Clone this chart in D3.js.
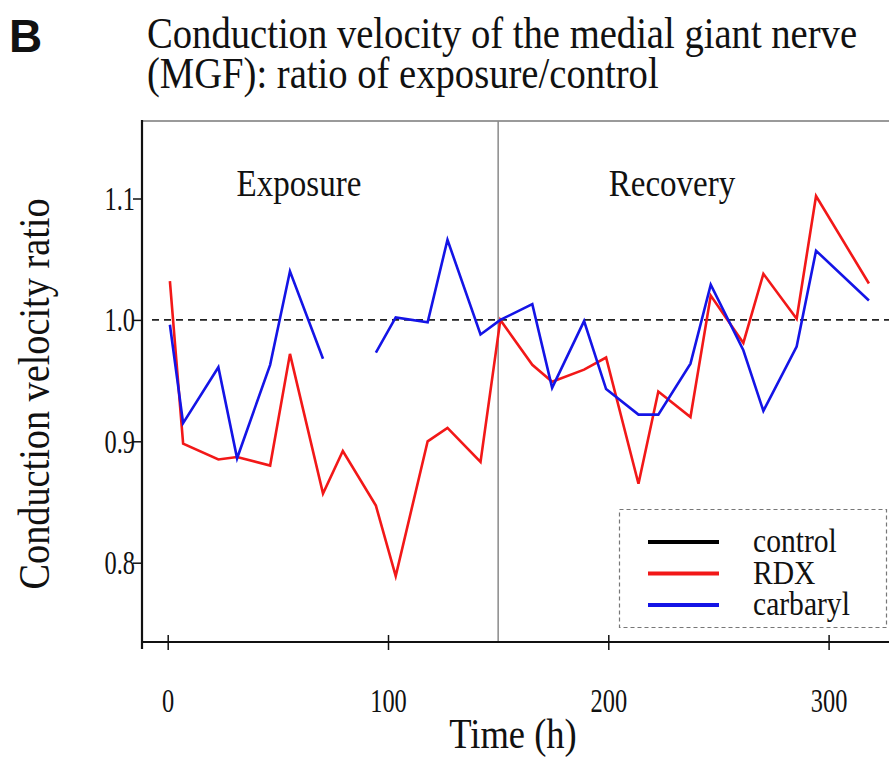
<!DOCTYPE html>
<html>
<head>
<meta charset="utf-8">
<script src="https://cdn.jsdelivr.net/npm/d3@7/dist/d3.min.js"></script>
<style>
  html, body { margin: 0; padding: 0; background: #fff; }
  svg { display: block; }
  text { font-family: "Liberation Serif", "Times New Roman", serif; fill: #111; }
</style>
</head>
<body>
<svg id="chart" width="889" height="758"></svg>
<script>
// Sampling times (h) shared by both treatments
const times = [1, 7, 23, 31.5, 46.5, 55.5, 70.5, 79.5, 94.5, 103.5, 118, 127, 142, 151,
               165.5, 174.5, 189, 199, 213.7, 222.7, 237.3, 246.5, 261.3, 270.4, 285.5, 294.3, 318.3];
// Conduction velocity ratio (exposure/control)
const rdx = [1.032, 0.898, 0.885, 0.887, 0.880, 0.972, 0.857, 0.892, 0.847, 0.789, 0.900, 0.911, 0.883, 1.000,
             0.963, 0.949, 0.959, 0.969, 0.865, 0.941, 0.920, 1.020, 0.981, 1.038, 1.001, 1.102, 1.030];
const carbaryl = [0.996, 0.915, 0.961, 0.886, 0.963, 1.040, 0.968, null, 0.973, 1.002, 0.998, 1.066, 0.988, 1.000,
                  1.013, 0.944, 0.999, 0.943, 0.922, 0.922, 0.964, 1.029, 0.975, 0.925, 0.978, 1.057, 1.016];
const controlLevel = 1.0;
const phaseBoundary = 150;
const xTicks = [0, 100, 200, 300];
const yTicks = [0.8, 0.9, 1.0, 1.1];
const seriesNames = ["control", "RDX", "carbaryl"];
const seriesColors = ["#000000", "#f21818", "#1414e6"];

const svg = d3.select("#chart");
const plotLeft = 142, plotRight = 889, plotTop = 121, plotBottom = 642;

const x = d3.scaleLinear().domain([0, 300]).range([167.7, 828.6]);
const y = d3.scaleLinear().domain([0.8, 1.1]).range([562.7, 198.5]);

// Condensed serif text placed at (px, py)
function label(parent, px, py, str, size, anchor = "start", rotate = 0, squeeze = 0.87) {
  return parent.append("text")
    .attr("transform", `translate(${px},${py}) rotate(${rotate}) scale(${squeeze},1)`)
    .attr("text-anchor", anchor)
    .style("font-size", size + "px")
    .text(str);
}

// Panel label and title
svg.append("text").attr("x", 9).attr("y", 52)
  .style("font-family", "'Liberation Sans', Arial, sans-serif")
  .style("font-weight", "bold").style("font-size", "46px").text("B");
label(svg, 147, 48, "Conduction velocity of the medial giant nerve", 44.4);
label(svg, 147, 88, "(MGF): ratio of exposure/control", 44.4);

// Frame: grey top border and phase divider
svg.append("line").attr("x1", plotLeft).attr("x2", plotRight).attr("y1", plotTop).attr("y2", plotTop)
  .attr("stroke", "#9a9a9a").attr("stroke-width", 2);
svg.append("line").attr("x1", x(phaseBoundary)).attr("x2", x(phaseBoundary))
  .attr("y1", plotTop).attr("y2", plotBottom)
  .attr("stroke", "#8a8a8a").attr("stroke-width", 1.5);

// Control reference
svg.append("line").attr("x1", plotLeft + 10).attr("x2", plotRight)
  .attr("y1", y(controlLevel)).attr("y2", y(controlLevel))
  .attr("stroke", "#222").attr("stroke-width", 1.6).attr("stroke-dasharray", "7,5");

// Axes
const xAxis = svg.append("g").attr("transform", `translate(0,${plotBottom})`)
  .call(d3.axisBottom(x).tickValues(xTicks).tickSize(8).tickFormat(d3.format("d")));
xAxis.select(".domain").remove();
xAxis.attr("font-family", null).attr("font-size", null);
xAxis.selectAll(".tick line").attr("y1", -7).attr("stroke", "#111").attr("stroke-width", 1.5);
xAxis.selectAll(".tick text").remove();
xAxis.selectAll(".tick").each(function (d) {
  label(d3.select(this), 0, 70, d3.format("d")(d), 33, "middle", 0, 0.74);
});
svg.append("line").attr("x1", plotLeft).attr("x2", plotRight).attr("y1", plotBottom).attr("y2", plotBottom)
  .attr("stroke", "#111").attr("stroke-width", 2.2);

const yAxis = svg.append("g").attr("transform", `translate(${plotLeft},0)`)
  .call(d3.axisLeft(y).tickValues(yTicks).tickSize(9).tickFormat(d3.format(".1f")));
yAxis.select(".domain").remove();
yAxis.attr("font-family", null).attr("font-size", null);
yAxis.selectAll(".tick line").attr("stroke", "#111").attr("stroke-width", 1.5);
yAxis.selectAll(".tick text").remove();
yAxis.selectAll(".tick").each(function (d) {
  label(d3.select(this), -7, 11, d3.format(".1f")(d), 33, "end", 0, 0.74);
});
svg.append("line").attr("x1", plotLeft).attr("x2", plotLeft).attr("y1", plotTop - 1).attr("y2", plotBottom + 7)
  .attr("stroke", "#111").attr("stroke-width", 2.2);

// Axis titles
label(svg, 513, 748, "Time (h)", 42, "middle");
label(svg, 49, 394, "Conduction velocity ratio", 44, "middle", -90);

// Phase labels
label(svg, 299, 196, "Exposure", 38, "middle");
label(svg, 672, 196, "Recovery", 38, "middle");

// Treatment series
const line = d3.line()
  .defined((d) => d[1] != null)
  .x((d) => x(d[0])).y((d) => y(d[1]));
const series = [
  { values: rdx, color: seriesColors[1] },
  { values: carbaryl, color: seriesColors[2] }
];
series.forEach((s) => {
  svg.append("path")
    .datum(times.map((t, i) => [t, s.values[i]]))
    .attr("fill", "none").attr("stroke", s.color).attr("stroke-width", 2.6)
    .attr("stroke-linejoin", "miter").attr("d", line);
});

// Legend
const lg = svg.append("g");
lg.append("rect").attr("x", 619.5).attr("y", 509.5).attr("width", 267).attr("height", 118)
  .attr("fill", "#fff").attr("stroke", "#777").attr("stroke-width", 1.2).attr("stroke-dasharray", "4,3");
seriesNames.forEach((name, i) => {
  const yy = 542 + i * 31.5;
  lg.append("line").attr("x1", 648).attr("x2", 719).attr("y1", yy).attr("y2", yy)
    .attr("stroke", seriesColors[i]).attr("stroke-width", 4);
  label(lg, 753, yy + 10, name, 34);
});
</script>
</body>
</html>
